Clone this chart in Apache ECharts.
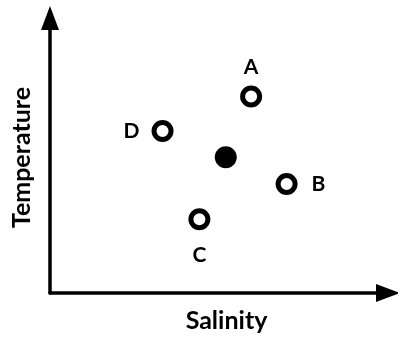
<!doctype html>
<html>
    <head>
        <meta charset="utf-8">
        <title>Temperature - Salinity</title>
        <style>
            html, body { margin: 0; padding: 0; background: #fff; }
            #main { width: 398px; height: 338px; }
        </style>
    </head>
    <body>
        <div id="main"></div>
        <script src="https://cdn.jsdelivr.net/npm/echarts@6/dist/echarts.min.js"></script>
        <script>
            // water masses A-D and their mixture (arbitrary units, 0-100)
            var names = ['A', 'B', 'C', 'D'];
            var salinity = [59.5, 70.0, 44.2, 33.3];
            var temperature = [72.5, 40.2, 27.2, 59.8];
            var labelPos = ['top', 'right', 'bottom', 'left'];
            var labelGap = [8, 14, 14, 12];
            var mixSalinity = [52.0];
            var mixTemperature = [50.1];

            var font = 'Lato, "Open Sans", sans-serif';

            var chart = echarts.init(document.getElementById('main'));

            var sources = names.map(function (n, i) {
                return {
                    name: n,
                    value: [salinity[i], temperature[i]],
                    label: { position: labelPos[i], distance: labelGap[i] }
                };
            });

            function axisLine(offset) {
                return {
                    show: true,
                    symbol: ['none', 'triangle'],
                    symbolSize: [18, 24],
                    symbolOffset: [0, offset],
                    lineStyle: { color: '#000', width: 3.5 }
                };
            }

            var axisCommon = {
                type: 'value',
                min: 0,
                max: 100,
                nameLocation: 'middle',
                axisTick: { show: false },
                axisLabel: { show: false },
                splitLine: { show: false }
            };

            chart.setOption({
                animation: false,
                grid: { left: 50, right: 10, top: 22, bottom: 40 },
                xAxis: Object.assign({}, axisCommon, {
                    name: 'Salinity',
                    nameGap: 15,
                    axisLine: axisLine(0),
                    nameTextStyle: {
                        fontFamily: font, fontWeight: 'bold', fontSize: 25,
                        color: '#000', padding: [0, 0, 0, 15]
                    }
                }),
                yAxis: Object.assign({}, axisCommon, {
                    name: 'Temperature',
                    nameGap: 16,
                    axisLine: axisLine(4),
                    nameTextStyle: {
                        fontFamily: font, fontWeight: 'bold', fontSize: 25,
                        color: '#000'
                    }
                }),
                series: [{
                    type: 'scatter',
                    data: sources,
                    symbolSize: 17,
                    itemStyle: { color: '#fff', borderColor: '#000', borderWidth: 5, opacity: 1 },
                    label: {
                        show: true,
                        formatter: '{b}',
                        fontFamily: font,
                        fontWeight: 'bold',
                        fontSize: 21,
                        color: '#000'
                    },
                    emphasis: { disabled: true }
                }, {
                    type: 'scatter',
                    data: mixSalinity.map(function (s, i) { return [s, mixTemperature[i]]; }),
                    symbolSize: 22,
                    itemStyle: { color: '#000', opacity: 1 },
                    emphasis: { disabled: true }
                }]
            });

            window.addEventListener('resize', function () {
                chart.resize();
            });
        </script>
    </body>
</html>
